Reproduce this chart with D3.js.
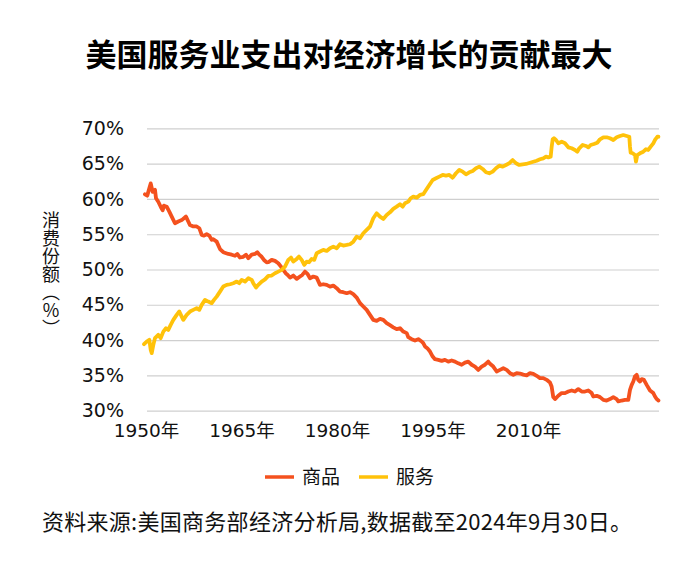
<!DOCTYPE html>
<html><head><meta charset="utf-8">
<script src="https://cdn.jsdelivr.net/npm/d3@7/dist/d3.min.js"></script>
<style>
html,body{margin:0;padding:0;background:#fff;}
svg{display:block;}
</style>
</head><body>
<svg id="chart" width="700" height="574"></svg>
<script>
// ---- data ----
const goodsYears = [1949.84,1950.20,1950.52,1950.74,1951.05,1951.41,1951.57,1951.93,1952.31,1952.62,1952.83,1953.25,1953.66,1954.04,1954.55,1955.07,1955.61,1956.28,1956.64,1956.91,1957.43,1957.96,1958.37,1958.75,1959.11,1959.53,1959.94,1960.32,1960.57,1961.10,1961.62,1962.14,1962.93,1963.46,1963.98,1964.34,1964.76,1965.28,1965.71,1966.07,1966.60,1967.12,1967.48,1967.79,1968.17,1968.53,1968.96,1969.21,1969.74,1970.26,1970.78,1971.20,1971.56,1971.94,1972.26,1972.62,1973.14,1973.67,1974.19,1974.55,1974.97,1975.40,1975.76,1976.28,1976.81,1977.33,1977.85,1978.38,1978.90,1979.42,1979.95,1980.47,1980.99,1981.52,1982.04,1982.56,1983.09,1983.61,1984.13,1984.66,1985.18,1985.70,1986.23,1986.75,1987.27,1987.80,1988.32,1988.84,1989.37,1989.89,1990.41,1990.95,1991.20,1991.73,1992.25,1992.77,1993.30,1993.55,1993.82,1994.18,1994.61,1995.03,1995.39,1995.91,1996.44,1996.96,1997.48,1998.01,1998.53,1999.05,1999.58,2000.10,2000.62,2001.15,2001.67,2002.19,2002.72,2003.24,2003.76,2004.03,2004.55,2005.08,2005.60,2006.12,2006.65,2007.17,2007.69,2008.22,2008.74,2009.26,2009.79,2010.31,2010.83,2011.36,2011.88,2012.40,2012.93,2013.45,2013.71,2013.87,2013.97,2014.24,2014.75,2015.29,2015.81,2016.33,2016.86,2017.38,2017.90,2018.44,2018.95,2019.47,2020.00,2020.25,2020.79,2021.31,2021.83,2022.36,2022.88,2023.40,2023.93,2024.18,2024.71,2025.23,2025.75,2026.02,2026.29,2026.54,2026.80,2027.07,2027.32,2027.59,2027.86,2028.21,2028.64,2029.16,2029.68,2029.95,2030.21,2030.49];
const goodsValues = [60.66,60.47,61.5,62.2,61.0,61.3,60.1,59.6,58.9,58.4,59.05,58.9,58.2,57.5,56.55,56.8,57.0,57.5,56.8,56.3,56.1,56.1,55.85,54.9,54.8,55.0,54.8,54.2,54.3,53.95,52.9,52.45,52.2,52.1,51.95,52.2,51.7,51.8,52.1,51.6,52.1,52.2,52.45,52.1,51.8,51.35,51.0,51.03,51.36,51.22,50.89,50.41,49.94,49.47,49.23,48.85,49.14,48.67,49.0,49.23,49.7,49.33,48.76,49.0,48.85,47.82,47.91,47.82,47.58,47.72,47.35,46.87,46.78,46.64,46.78,46.5,46.02,45.23,44.75,44.28,43.57,42.86,42.72,43.0,42.86,42.39,42.1,41.8,41.54,41.68,41.2,40.98,40.4,40.12,39.93,40.12,39.8,39.56,39.1,38.85,38.37,37.66,37.28,37.19,37.05,37.19,36.95,37.1,36.95,36.7,36.5,36.8,36.95,36.5,36.24,35.77,36.24,36.5,36.95,36.63,36.24,35.54,35.77,36.0,35.77,35.3,35.07,35.3,35.25,35.1,35.0,35.3,35.2,34.93,34.6,34.6,34.36,33.98,33.41,32.48,31.91,31.63,32.1,32.48,32.48,32.7,32.85,32.7,33.05,32.7,32.7,32.85,32.48,32.0,32.1,31.91,31.52,31.43,31.63,31.91,31.63,31.3,31.43,31.52,31.52,32.94,33.65,34.12,34.84,35.07,34.36,34.12,34.46,34.36,33.65,32.85,32.48,32.0,31.63,31.43];

const servicesYears = [1949.69,1950.11,1950.52,1950.74,1950.90,1951.15,1951.41,1951.93,1952.31,1952.72,1953.14,1953.50,1953.88,1954.29,1954.82,1955.23,1955.61,1955.86,1956.39,1956.91,1957.43,1957.96,1958.37,1958.75,1959.27,1959.78,1960.32,1960.68,1961.10,1961.62,1962.14,1962.67,1963.19,1963.71,1964.25,1964.65,1965.03,1965.55,1966.07,1966.60,1966.85,1967.28,1967.64,1968.17,1968.69,1969.21,1969.74,1970.26,1970.78,1971.31,1971.83,1972.35,1972.77,1973.14,1973.67,1974.03,1974.45,1974.86,1975.24,1975.60,1976.02,1976.43,1976.81,1977.33,1977.85,1978.38,1978.90,1979.42,1979.95,1980.47,1980.99,1981.52,1982.04,1982.56,1983.09,1983.61,1984.13,1984.66,1985.18,1985.70,1986.23,1986.75,1987.27,1987.80,1988.32,1988.84,1989.37,1989.89,1990.31,1990.68,1991.20,1991.57,1991.98,1992.52,1993.03,1993.55,1993.98,1994.50,1995.03,1995.55,1996.07,1996.60,1997.12,1997.64,1998.17,1998.69,1999.21,1999.74,2000.26,2000.78,2001.31,2001.83,2002.35,2002.88,2003.40,2003.92,2004.45,2004.97,2005.49,2006.02,2006.54,2007.06,2007.59,2008.11,2008.63,2009.16,2009.68,2010.20,2010.83,2011.36,2011.88,2012.40,2012.82,2013.19,2013.56,2013.72,2013.88,2014.08,2014.40,2014.76,2015.29,2015.81,2016.33,2016.86,2017.38,2017.74,2018.05,2018.59,2019.11,2019.47,2019.84,2020.36,2020.88,2021.31,2021.83,2022.36,2022.88,2023.40,2023.93,2024.45,2024.97,2025.50,2025.91,2026.02,2026.13,2026.44,2026.80,2026.96,2027.17,2027.59,2028.11,2028.53,2028.89,2029.27,2029.68,2029.95,2030.31,2030.49];
const servicesValues = [39.42,39.79,40.03,38.61,38.14,39.32,40.27,40.74,40.27,41.2,41.68,41.44,42.15,42.86,43.57,44.04,43.33,42.86,43.57,44.04,44.28,44.52,44.28,44.99,45.69,45.45,45.23,45.69,46.16,46.87,47.58,47.82,47.91,48.06,48.29,48.06,48.53,48.29,48.76,48.53,48.06,47.44,47.82,48.29,48.6,49.1,49.14,49.47,49.7,49.94,50.41,51.36,51.69,51.12,51.5,51.83,51.36,50.65,51.12,51.03,51.5,51.36,52.31,52.54,52.78,52.63,53.02,53.24,53.02,53.58,53.39,53.48,53.58,53.95,54.66,54.43,55.14,55.61,56.08,57.27,57.97,57.49,57.17,57.73,58.1,58.6,58.91,59.25,58.91,59.39,59.62,60.1,60.33,60.18,60.57,60.67,61.27,61.98,62.69,62.93,63.16,63.4,63.3,63.4,63.02,63.64,64.11,63.87,63.5,63.78,63.97,64.35,64.58,64.25,63.78,63.64,63.87,64.35,64.72,64.58,64.82,65.06,65.52,65.06,64.82,64.91,64.96,65.1,65.28,65.42,65.62,65.76,65.99,65.9,65.99,67.41,68.46,68.6,68.36,67.89,68.12,67.89,67.32,67.18,66.94,66.7,67.18,67.65,67.51,67.32,67.65,67.79,67.97,68.46,68.74,68.74,68.6,68.36,68.74,68.92,69.06,68.92,68.82,67.41,66.56,66.47,66.23,65.28,66.23,66.47,66.7,67.04,66.94,67.41,67.89,68.36,68.82,68.82];

const yTicks = [30,35,40,45,50,55,60,65,70];
const xTicks = [1950,1965,1980,1995,2010];
const seriesNames = ["商品","服务"];
const seriesColors = ["#F4511E","#FFC20A"];

const titleText = "美国服务业支出对经济增长的贡献最大";
const yTitle = "消费份额（％）";
const sourceText = "资料来源:美国商务部经济分析局,数据截至2024年9月30日。";

// ---- drawing ----
const svg = d3.select("#chart");
const cjk = "'Noto Sans CJK SC','Noto Sans',sans-serif";
const num = "'DejaVu Sans','Noto Sans CJK SC',sans-serif";

const plotL = 147, plotR = 659, plotT = 128.4, plotB = 410.6;
const x = d3.scaleLinear().domain([1950, 2010]).range([146, 528]);
const y = d3.scaleLinear().domain([30, 70]).range([plotB, plotT]);

svg.append("text")
  .attr("x", 349).attr("y", 66)
  .attr("text-anchor", "middle")
  .style("font-family", cjk).style("font-weight", 700).style("font-size", "31px")
  .attr("fill", "#000")
  .text(titleText);

const yAxis = svg.append("g")
  .attr("transform", `translate(${plotL},0)`)
  .call(d3.axisLeft(y).tickValues(yTicks).tickSize(-(plotR - plotL)).tickPadding(23).tickFormat(d => d + "%"));
yAxis.select(".domain").remove();
yAxis.selectAll(".tick line").attr("stroke", "#cfcfcf").attr("stroke-width", 1.2);
yAxis.selectAll(".tick text").style("font-family", num).style("font-size", "19px").attr("fill", "#111");

const xAxis = svg.append("g")
  .attr("transform", `translate(0,${plotB})`)
  .call(d3.axisBottom(x).tickValues(xTicks).tickSize(0).tickPadding(13).tickFormat(d => d + "年"));
xAxis.select(".domain").remove();
xAxis.selectAll(".tick text").style("font-family", num).style("font-size", "18.5px").attr("fill", "#111");

svg.append("text")
  .attr("x", 51).attr("y", 211)
  .attr("writing-mode", "vertical-rl")
  .style("writing-mode", "vertical-rl")
  .style("font-family", cjk).style("font-size", "18px")
  .attr("fill", "#111")
  .text(yTitle);

const line = d3.line().x(d => x(d[0])).y(d => y(d[1])).curve(d3.curveLinear);
const goods = goodsYears.map((t, i) => [t, goodsValues[i]]);
const services = servicesYears.map((t, i) => [t, servicesValues[i]]);

[[goods, seriesColors[0]], [services, seriesColors[1]]].forEach(([data, col]) => {
  svg.append("path").datum(data)
    .attr("d", line)
    .attr("fill", "none")
    .attr("stroke", col)
    .attr("stroke-width", 3.8)
    .attr("stroke-linejoin", "round")
    .attr("stroke-linecap", "round");
});

// legend
const legend = svg.append("g");
const legX = [265, 359];
seriesNames.forEach((name, i) => {
  legend.append("line")
    .attr("x1", legX[i]).attr("x2", legX[i] + 29)
    .attr("y1", 477).attr("y2", 477)
    .attr("stroke", seriesColors[i]).attr("stroke-width", 3.5);
  legend.append("text")
    .attr("x", legX[i] + 37).attr("y", 484)
    .style("font-family", cjk).style("font-size", "19px").attr("fill", "#111")
    .text(name);
});

svg.append("text")
  .attr("x", 42).attr("y", 530)
  .attr("textLength", 590).attr("lengthAdjust", "spacing")
  .style("font-family", cjk).style("font-size", "22px").attr("fill", "#111")
  .text(sourceText);
</script>
</body></html>
